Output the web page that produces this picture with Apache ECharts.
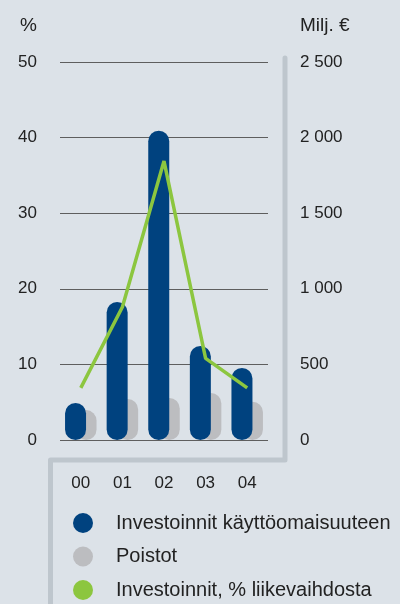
<!DOCTYPE html>
<html>
<head>
<meta charset="utf-8">
<script src="https://cdn.jsdelivr.net/npm/echarts@6/dist/echarts.min.js"></script>
<style>
html,body{margin:0;padding:0;background:#dce2e8;}
#chart{width:400px;height:604px;}
</style>
</head>
<body>
<div id="chart"></div>
<script>
var categories = ['00', '01', '02', '03', '04'];
var investoinnit = [245, 913, 2045, 622, 476];
var poistot = [198, 271, 278, 311, 253];
var investointiProsentti = [6.9, 17.6, 36.9, 10.8, 6.9];
var leftTicks = ['0', '10', '20', '30', '40', '50'];
var rightTicks = ['0', '500', '1 000', '1 500', '2 000', '2 500'];
var seriesNames = ['Investoinnit käyttöomaisuuteen', 'Poistot', 'Investoinnit, % liikevaihdosta'];

var FONT = 'Liberation Sans, Arial, sans-serif';
var chart = echarts.init(document.getElementById('chart'), null, {renderer: 'canvas'});
chart.setOption({
  backgroundColor: '#dce2e8',
  animation: false,
  textStyle: {fontFamily: FONT},
  grid: {left: 60, right: 132, top: 62, height: 378},
  graphic: [{
    type: 'polyline',
    z: 0,
    shape: {points: [[285, 58], [285, 460], [50.5, 460], [50.5, 610]]},
    style: {stroke: '#bec6cd', lineWidth: 5, fill: null, lineJoin: 'round', lineCap: 'round'}
  }],
  legend: {
    orient: 'vertical',
    left: 73,
    top: 513,
    padding: 0,
    itemGap: 13.5,
    itemWidth: 20,
    itemHeight: 20,
    icon: 'circle',
    data: seriesNames,
    textStyle: {fontSize: 20, color: '#222', fontFamily: FONT, padding: [0, 0, 0, 18], lineHeight: 20}
  },
  xAxis: {
    type: 'category',
    data: categories,
    axisLine: {show: false},
    axisTick: {show: false},
    axisLabel: {fontSize: 17, color: '#222', margin: 35, fontFamily: FONT}
  },
  yAxis: [{
    type: 'value',
    min: 0, max: 50, interval: 10,
    name: '%',
    nameLocation: 'end',
    nameGap: 27,
    nameTextStyle: {fontSize: 19, color: '#222', align: 'right', padding: [0, 23, 0, 0], fontFamily: FONT},
    axisLine: {show: false},
    axisTick: {show: false},
    axisLabel: {fontSize: 17, color: '#222', margin: 23, fontFamily: FONT,
      formatter: function (v) { return leftTicks[Math.round(v / 10)]; }},
    splitLine: {lineStyle: {color: '#5e5e5e', width: 1}}
  }, {
    type: 'value',
    min: 0, max: 2500, interval: 500,
    name: 'Milj. €',
    nameLocation: 'end',
    nameGap: 27,
    nameTextStyle: {fontSize: 19, color: '#222', align: 'left', padding: [0, 0, 0, 32], fontFamily: FONT},
    axisLine: {show: false},
    axisTick: {show: false},
    axisLabel: {fontSize: 17, color: '#222', margin: 32, fontFamily: FONT,
      formatter: function (v) { return rightTicks[Math.round(v / 500)]; }},
    splitLine: {show: false}
  }],
  series: [{
    name: seriesNames[0],
    type: 'bar',
    yAxisIndex: 1,
    data: investoinnit,
    barWidth: 21,
    barGap: '-50%',
    z: 3,
    itemStyle: {color: '#00427f', borderRadius: 10.5}
  }, {
    name: seriesNames[1],
    type: 'bar',
    yAxisIndex: 1,
    data: poistot,
    barWidth: 21,
    z: 2,
    itemStyle: {color: '#bcbdc0', borderRadius: 10.5}
  }, {
    name: seriesNames[2],
    type: 'line',
    yAxisIndex: 0,
    data: investointiProsentti,
    z: 4,
    symbol: 'none',
    itemStyle: {color: '#8cc63f'},
    lineStyle: {color: '#8cc63f', width: 3.5}
  }]
});
</script>
</body>
</html>
